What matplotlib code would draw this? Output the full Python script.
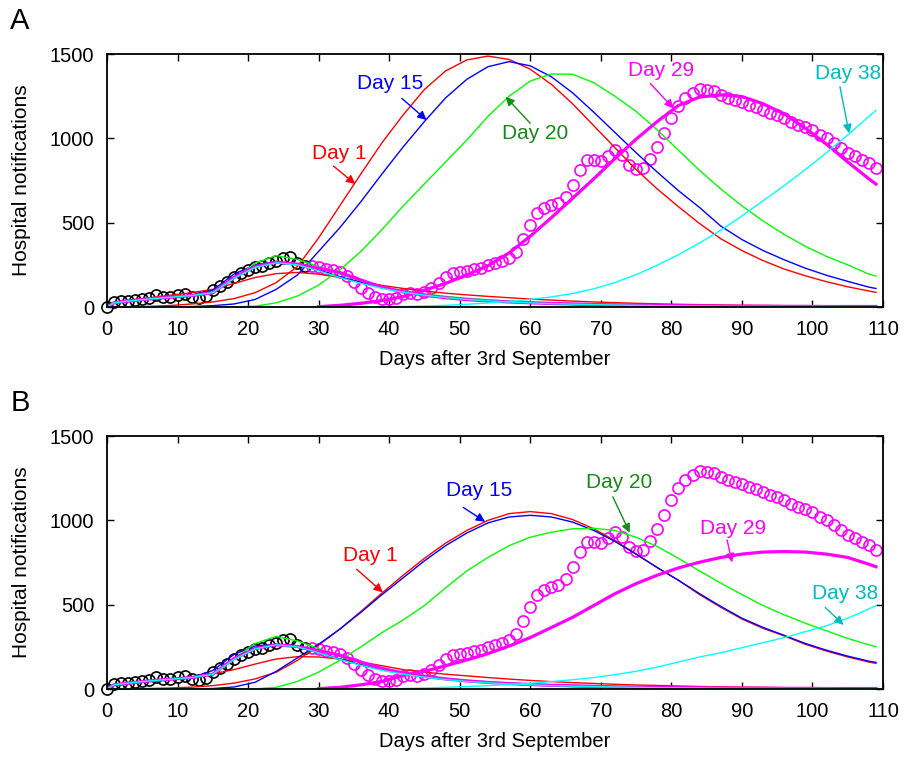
import numpy as np
import matplotlib
matplotlib.use('Agg')
import matplotlib.pyplot as plt

plt.rcParams['font.family'] = ['Liberation Sans', 'DejaVu Sans']

nan = np.nan

curve_days = [0, 1] + list(range(3, 109, 3)) + [109]

# hospital notification data
black_days = list(range(0, 29))
black_vals = [3, 32, 36, 38, 42, 46, 52, 72, 58, 60, 70, 76, 62, 55, 66, 100, 122, 150, 176, 204,
              220, 236, 242, 260, 270, 290, 298, 262, 245]
mag_days = list(range(29, 110))
mag_vals = [245, 235, 228, 218, 205, 185, 150, 115, 85, 60,
            45, 45, 55, 80, 82, 80, 90, 111, 140, 180,
            200, 210, 215, 223, 233, 248, 259, 273, 289, 328,
            401, 486, 556, 589, 605, 615, 650, 723, 812, 870,
            872, 868, 897, 931, 901, 842, 816, 826, 876, 947,
            1030, 1119, 1192, 1237, 1271, 1290, 1286, 1280, 1257, 1237,
            1227, 1217, 1198, 1188, 1168, 1148, 1138, 1119, 1099, 1079,
            1070, 1050, 1020, 1001, 971, 941, 916, 896, 872, 852,
            823]

# ---- panel A: fits made on day 1, 15, 20, 29, 38 (first wave + second wave)
a_red_bump = [0, 28, 40, 55, 70, 85, 105, 140, 175, 198, 205, 195, 175, 150, 128, 110, 95, 82, 72, 63,
              55, 47, 41, 35, 30, 26, 22, 19, 16, 14, 12, 10, 9, 8, 7, 6, 5, 5, 5]
a_red_main = [0, 0, 1, 4, 9, 18, 30, 50, 85, 145, 240, 410, 600, 790, 975, 1140, 1290, 1400, 1465, 1488,
              1468, 1410, 1320, 1205, 1075, 945, 815, 700, 595, 495, 405, 335, 275, 225, 185, 150, 120, 95, 87]
a_blue_bump = [0, 25, 35, 48, 58, 68, 100, 195, 250, 270, 255, 220, 180, 145, 115, 92, 73, 58, 46, 37,
               30, 24, 19, 15, 12, 10, 8, 6, 5, 4, 3, 3, 2, 2, 2, 1, 1, 1, 1]
a_blue_main = [0, 0, 0, 0, 1, 3, 8, 18, 45, 105, 190, 330, 470, 625, 790, 950, 1100, 1240, 1350, 1425,
               1455, 1430, 1365, 1270, 1155, 1035, 915, 800, 690, 590, 480, 400, 335, 280, 230, 188, 152, 118, 110]
a_green_bump = [0, 25, 35, 48, 58, 68, 80, 170, 260, 305, 282, 240, 195, 155, 118, 95, 78, 63, 52, 43,
                36, 30, 25, 21, 18, 15, 13, 11, 9, 8, 7, 6, 5, 4, 4, 3, 3, 3, 3]
a_green_main = [0, 0, 0, 0, 0, 0, 0, 1, 5, 25, 65, 130, 220, 330, 460, 600, 730, 860, 990, 1130,
                1250, 1340, 1382, 1380, 1330, 1250, 1160, 1050, 930, 810, 700, 600, 510, 430, 360, 300, 250, 195, 184]
a_mag_bump = [0, 25, 35, 48, 58, 68, 85, 175, 240, 265, 255, 230, 205, 160, 118, 90, 70, 55, 44, 36,
              30, 25, 21, 18, 15, 13, 11, 9, 8, 7, 6, 5, 5, 4, 4, 3, 3, 3, 3]
a_mag_main = [nan] * 11 + [2, 10, 22, 38, 62, 100, 140, 190, 245, 320, 420, 530, 645, 760, 880, 995,
                           1100, 1195, 1245, 1258, 1248, 1205, 1145, 1060, 965, 860, 760, 729]
a_cyan_bump = [0, 25, 35, 48, 58, 68, 85, 170, 235, 262, 250, 215, 175, 140, 110, 88, 70, 56, 45, 37,
               30, 25, 20, 17, 14, 12, 10, 8, 7, 6, 5, 4, 4, 3, 3, 3, 2, 2, 2]
a_cyan_main = [0] * 14 + [1, 3, 6, 10, 16, 24, 33, 45, 60, 80, 108, 145, 192, 248, 310, 380, 455, 540,
                          630, 720, 815, 915, 1020, 1130, 1165]

# ---- panel B
b_red_bump = [0, 22, 30, 45, 58, 72, 90, 115, 148, 178, 192, 190, 178, 160, 138, 115, 100, 88, 78, 68,
              59, 51, 44, 38, 33, 28, 24, 21, 18, 15, 13, 11, 10, 8, 7, 6, 5, 5, 4]
b_red_main = [0, 0, 1, 3, 6, 11, 20, 35, 60, 100, 170, 260, 355, 460, 570, 675, 775, 865, 940, 1000,
              1040, 1052, 1040, 1005, 950, 880, 800, 720, 645, 560, 485, 415, 360, 315, 265, 225, 190, 160, 152]
b_blue_bump = [0, 25, 35, 48, 58, 68, 110, 205, 255, 265, 248, 215, 178, 143, 113, 90, 72, 57, 46, 37,
               30, 24, 19, 15, 12, 10, 8, 6, 5, 4, 3, 3, 2, 2, 2, 1, 1, 1, 1]
b_blue_main = [0, 0, 0, 0, 0, 1, 3, 12, 40, 105, 185, 265, 355, 455, 560, 660, 760, 850, 925, 985,
               1020, 1030, 1020, 990, 940, 875, 800, 720, 645, 565, 490, 420, 365, 318, 270, 230, 195, 165, 158]
b_green_bump = [0, 25, 35, 48, 58, 68, 85, 180, 270, 312, 285, 240, 195, 155, 120, 96, 78, 63, 52, 43,
                36, 30, 25, 21, 18, 15, 13, 11, 9, 8, 7, 6, 5, 4, 4, 3, 3, 3, 3]
b_green_main = [0, 0, 0, 0, 0, 0, 0, 0, 1, 10, 45, 100, 170, 250, 335, 410, 495, 600, 700, 780,
                850, 900, 930, 950, 953, 940, 900, 845, 775, 700, 628, 560, 495, 440, 390, 345, 300, 262, 251]
b_mag_bump = [0, 25, 35, 48, 58, 68, 88, 180, 240, 262, 252, 228, 200, 160, 122, 95, 75, 60, 48, 39,
              32, 27, 22, 19, 16, 13, 11, 9, 8, 7, 6, 5, 5, 4, 4, 3, 3, 3, 3]
b_mag_main = [nan] * 11 + [2, 10, 25, 45, 80, 105, 138, 172, 210, 255, 305, 365, 425, 495, 565, 625,
                           675, 718, 752, 780, 800, 812, 815, 812, 800, 780, 740, 725]
b_cyan_bump = [0, 25, 35, 48, 58, 68, 88, 175, 238, 262, 250, 215, 175, 140, 110, 88, 70, 56, 45, 37,
               30, 25, 20, 17, 14, 12, 10, 8, 7, 6, 5, 4, 4, 3, 3, 3, 2, 2, 2]
b_cyan_main = [0] * 14 + [1, 3, 6, 10, 15, 20, 27, 34, 44, 55, 68, 85, 105, 130, 160, 190, 215, 245,
                          275, 305, 340, 375, 420, 475, 495]

RED = '#ff0000'
BLUE = '#0000ff'
GREEN = '#00ff00'
MAG = '#ff00ff'
CYAN = '#00ffff'
DKGREEN = '#178a17'
TEAL = '#00bcbc'


def draw_panel(ax, curves, notes, letter):
    ax.plot(black_days, black_vals, 'o', mfc='none', mec='k', ms=8, mew=1.2, clip_on=False)
    ax.plot(mag_days, mag_vals, 'o', mfc='none', mec=MAG, ms=8, mew=1.2, clip_on=False)
    for vals, col, lw in curves:
        ax.plot(curve_days, vals, color=col, lw=lw)
    for txt, col, tpos, tail, head in notes:
        ax.text(tpos[0], tpos[1], txt, color=col, fontsize=15, ha='center', va='center')
        ax.annotate('', xy=head, xytext=tail,
                    arrowprops=dict(arrowstyle='-|>', color=col, lw=1.0, mutation_scale=13,
                                    shrinkA=0, shrinkB=0))
    ax.set_xlim(0, 110)
    ax.set_ylim(0, 1500)
    ax.set_xticks(range(0, 111, 10))
    ax.set_yticks([0, 500, 1000, 1500])
    ax.tick_params(direction='in', top=True, right=True, length=5, width=1,
                   labelsize=14.5, pad=9)
    for sp in ax.spines.values():
        sp.set_linewidth(1.3)
    ax.set_xlabel('Days after 3rd September', fontsize=14.5, labelpad=8)
    ax.set_ylabel('Hospital notifications', fontsize=15, labelpad=14)
    ax.text(-0.112, 1.13, letter, transform=ax.transAxes, fontsize=21, ha='center', va='center')


fig = plt.figure(figsize=(9.05, 7.59), dpi=100)
axA = fig.add_axes([0.1182, 0.5955, 0.8575, 0.3333])
axB = fig.add_axes([0.1182, 0.0922, 0.8575, 0.3333])

curvesA = [(a_red_main, RED, 1.0), (a_red_bump, RED, 1.0),
           (a_blue_main, BLUE, 1.0), (a_blue_bump, BLUE, 1.0),
           (a_green_main, GREEN, 1.0), (a_green_bump, GREEN, 1.0),
           (a_mag_main, MAG, 2.3), (a_mag_bump, MAG, 2.3),
           (a_cyan_main, CYAN, 1.0), (a_cyan_bump, CYAN, 1.0)]
notesA = [('Day 1', RED, (33.0, 911), (32.1, 836), (35.2, 729)),
          ('Day 15', BLUE, (40.1, 1326), (41.8, 1237), (45.3, 1109)),
          ('Day 20', DKGREEN, (60.7, 1030), (60.0, 1089), (56.5, 1247)),
          ('Day 29', MAG, (78.5, 1405), (77.0, 1326), (80.3, 1178)),
          ('Day 38', TEAL, (105.0, 1386), (103.9, 1306), (105.2, 1030))]
draw_panel(axA, curvesA, notesA, 'A')

curvesB = [(b_red_main, RED, 1.0), (b_red_bump, RED, 1.0),
           (b_blue_main, BLUE, 1.0), (b_blue_bump, BLUE, 1.0),
           (b_green_main, GREEN, 1.0), (b_green_bump, GREEN, 1.0),
           (b_mag_main, MAG, 2.3), (b_mag_bump, MAG, 2.3),
           (b_cyan_main, CYAN, 1.0), (b_cyan_bump, CYAN, 1.0)]
notesB = [('Day 1', RED, (37.3, 789), (35.4, 710), (39.1, 573)),
          ('Day 15', BLUE, (52.8, 1180), (50.5, 1077), (53.6, 992)),
          ('Day 20', DKGREEN, (72.6, 1223), (71.7, 1140), (74.1, 927)),
          ('Day 29', MAG, (88.8, 953), (87.9, 884), (88.6, 751)),
          ('Day 38', TEAL, (104.7, 567), (101.8, 484), (104.4, 380))]
draw_panel(axB, curvesB, notesB, 'B')

fig.savefig('out.png', dpi=100)
